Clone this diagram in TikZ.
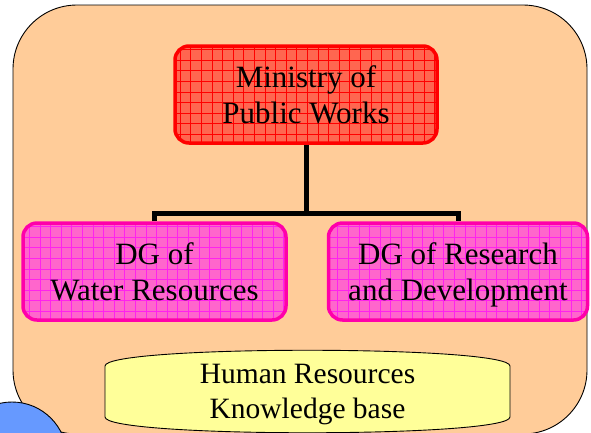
\documentclass[tikz,border=0pt]{standalone}
\usepackage{fontspec}
\setmainfont{Liberation Serif}
\definecolor{peach}{HTML}{FFCC99}
\definecolor{tomatofill}{HTML}{FF6650}
\definecolor{redline}{HTML}{FF0000}
\definecolor{pinkfill}{HTML}{FF66CC}
\definecolor{pinkline}{HTML}{FF00AA}
\definecolor{pinkgrid}{HTML}{FF22EE}
\definecolor{yellowfill}{HTML}{FFFF99}
\definecolor{bluefill}{HTML}{6699FF}
\tikzset{
  gridbox/.style n args={3}{rounded corners=14pt, draw=#1, line width=3.5pt, fill=#2,
    align=center, inner sep=0pt, text depth=0pt, font=\fontsize{31}{36.5}\selectfont,
    path picture={\draw[#3, line width=0.4pt]
      (path picture bounding box.south west) grid[step=10.6pt]
      (path picture bounding box.north east);}},
  ministrybox/.style={gridbox={redline}{tomatofill}{redline}},
  dgbox/.style={gridbox={pinkline}{pinkfill}{pinkgrid}},
  conn/.style={line width=5pt, line join=miter, draw=black},
  outline/.style={draw=black, line width=0.9pt}
}
\begin{document}
\begin{tikzpicture}[x=1pt,y=-1pt]
\useasboundingbox (0,0) rectangle (591,432);
\clip (0,0) rectangle (591,432);
\fill[white] (0,0) rectangle (591,432);
% outer rounded frame
\draw[outline, fill=peach, rounded corners=64pt] (13,5) rectangle (587,434);
% boxes
\node[ministrybox, minimum width=262pt, minimum height=97pt] (min) at (306,94.5) {Ministry of\\Public Works};
\node[dgbox, minimum width=263pt, minimum height=97pt] (dgw) at (154.5,271.5) {DG of\\Water Resources};
\node[dgbox, minimum width=259pt, minimum height=97pt] (dgr) at (458,271.5) {DG of Research\\and Development};
% connectors
\coordinate (bus) at (306,213);
\draw[conn] (min.south) -- (bus);
\draw[conn] (dgw.north) |- (bus) -| (dgr.north);
% knowledge base barrel
\draw[outline, fill=yellowfill] (105,417) -- (105,366)
  .. controls (105,345) and (510,345) .. (510,366) -- (510,417)
  .. controls (510,438) and (105,438) .. (105,417) -- cycle;
\node[align=center, font=\fontsize{29.5}{35}\selectfont, inner sep=0pt] (hr) at (307.5,394.5) {Human Resources\\Knowledge base};
% blue disc at the lower left
\draw[outline, fill=bluefill] (12,457) circle[radius=55pt];
\end{tikzpicture}
\end{document}
